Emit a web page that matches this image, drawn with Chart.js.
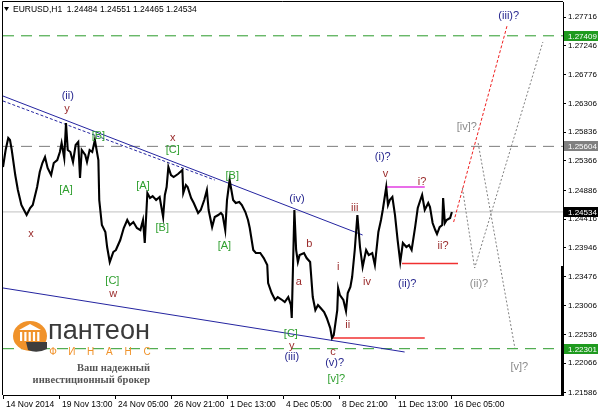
<!DOCTYPE html>
<html>
<head>
<meta charset="utf-8">
<script src="https://cdn.jsdelivr.net/npm/chart.js@4.4.1/dist/chart.umd.min.js"></script>
<style>
  html, body { margin: 0; padding: 0; background: #fff; }
</style>
</head>
<body>
<canvas id="meinChart" width="600" height="411"></canvas>
<script>
// ---- data (EURUSD H1, bars counted from 14 Nov 2014 00:00)
const xTickBars   = [0, 64, 128, 192, 256, 320, 384, 448, 512];
const xTickLabels = ['14 Nov 2014', '19 Nov 13:00', '24 Nov 05:00', '26 Nov 21:00', '1 Dec 13:00',
                     '4 Dec 05:00', '8 Dec 21:00', '11 Dec 13:00', '16 Dec 05:00'];
const yTickVals = [1.27716, 1.27246, 1.26776, 1.26306, 1.25836, 1.25366, 1.24886,
                   1.24416, 1.23946, 1.23476, 1.23006, 1.22536, 1.22066, 1.21586];

const priceBars = [0,3,6,8,10,14,17,21,24,27,31,34,39,42,45,48,51,55,58,62,65,67,70,72,74,77,80,83,86,88,
  90,94,96,99,102,105,109,110,113,117,119,122,126,129,134,138,142,145,149,153,157,160,162,165,168,171,175,179,183,185,
  187,189,192,195,200,205,206,209,211,215,218,223,226,230,233,235,239,242,246,249,251,254,256,259,263,266,270,273,277,280,
  282,286,289,294,298,302,303,307,311,314,319,322,326,329,330,333,335,337,339,344,347,351,354,357,360,363,367,370,374,376,
  378,382,383,385,389,392,394,397,399,402,405,408,411,415,418,422,425,429,432,434,438,440,442,445,448,451,454,457,461,464,
  467,471,474,477,479,482,486,488,491,494,496,499,502,503,505,507,511,513];
const priceVals = [1.25267,1.25545,1.25740,1.25708,1.25545,1.25136,1.24891,1.24647,1.24565,1.24483,1.24598,1.24647,1.24940,1.25185,1.25332,1.25430,1.25251,1.25136,1.25332,1.25381,1.25512,1.25659,1.25414,1.25985,1.25545,1.25512,1.25349,1.25626,1.25675,1.25087,
  1.25545,1.25463,1.25349,1.25545,1.25512,1.25708,1.25381,1.24728,1.24320,1.24206,1.23961,1.23716,1.23879,1.23912,1.24075,1.24271,1.24402,1.24320,1.24369,1.24271,1.24238,1.24402,1.24026,1.24842,1.24761,1.24793,1.24728,1.24777,1.24451,1.24810,
  1.24940,1.25267,1.25136,1.25104,1.25153,1.25218,1.24842,1.24973,1.24940,1.24761,1.24679,1.24516,1.24565,1.24728,1.24891,1.24565,1.24287,1.24451,1.24483,1.24516,1.24483,1.24238,1.24728,1.25055,1.24728,1.24679,1.24696,1.24647,1.24532,1.24402,
  1.24271,1.23912,1.23863,1.23863,1.23781,1.23667,1.23373,1.23210,1.23096,1.23144,1.23096,1.23063,1.23144,1.23014,1.22802,1.24565,1.23912,1.23716,1.23830,1.23863,1.23781,1.23716,1.23144,1.22932,1.23014,1.22965,1.22900,1.22802,1.22638,1.22475,
  1.22524,1.22932,1.23291,1.23177,1.23096,1.22916,1.23210,1.23308,1.23471,1.23912,1.24483,1.23961,1.23634,1.23912,1.23830,1.23863,1.23667,1.24206,1.24402,1.24565,1.24940,1.24647,1.24728,1.24777,1.24483,1.24075,1.23716,1.24026,1.23961,1.23993,
  1.23912,1.24287,1.24598,1.24728,1.24810,1.24565,1.24679,1.24614,1.24353,1.24238,1.24173,1.24287,1.24320,1.24761,1.24353,1.24402,1.24434,1.24534];

const lastBar = [1.24484, 1.24551, 1.24465, 1.24534]; // open high low close
const greenLevels = [1.27409, 1.22301];
const grayLevel = 1.25604;

// trend lines and targets: [bar, price]
const upperLine   = [[0, 1.26426], [411, 1.24157]];
const upperDotted = [[0, 1.26345], [242, 1.25055]];
const lowerLine   = [[0, 1.23292], [459, 1.22247]];
const highMark    = [[437, 1.24940], [482, 1.24940]];
const stopMark1   = [[456, 1.23690], [520, 1.23690]];
const stopMark2   = [[377, 1.22475], [482, 1.22475]];
const mainPath    = [[515, 1.24369], [576, 1.27569]];
const altPathA    = [[525, 1.24924], [539, 1.23618], [617, 1.27308]];
const altPathB    = [[543, 1.25659], [585, 1.22312]];

// wave labels
const waveText  = ['(ii)','y','[B]','x','[C]','[A]','[A]','[B]','x','[B]','[A]','[C]','w','(iv)','b','a','iii','(i)?','v','i?',
                   'i','iv','(ii)?','ii?','ii','[C]','y','(iii)','c','(v)?','[v]?','(iii)?','[iv]?','(ii)?','[v]?'];
const waveBar   = [74,73,109,194,194,72,160,182,32,262,253,125,126,336,350,338,402,434,437,479,
                   383,416,462,503,394,329,330,330,377,379,381,578,530,544,590];
const wavePrice = [1.26426,1.26214,1.25773,1.25740,1.25545,1.24891,1.24957,1.24271,1.24173,1.25120,1.23977,1.23406,1.23194,1.24745,1.24010,1.23390,1.24598,1.25430,1.25153,1.25022,
                   1.23634,1.23390,1.23357,1.23977,1.22687,1.22541,1.22345,1.22165,1.22247,1.22067,1.21806,1.27732,1.25920,1.23357,1.22002];
const waveDegree = ['minor','sub','inter','sub','inter','inter','inter','inter','sub','inter','inter','inter','sub','minor','sub','sub','sub','minor','sub','sub',
                    'sub','sub','minor','sub','sub','inter','sub','minor','sub','minor','inter','minor','alt','alt','alt'];

const degreeColor = { minor: '#26268e', sub: '#9a2b2b', inter: '#2f9f2f', alt: '#8a8a8a' };

function seg(pts, color, width, dash) {
  return {
    data: pts.map(p => ({ x: p[0], y: p[1] })),
    borderColor: color, borderWidth: width, borderDash: dash || [],
    pointRadius: 0, fill: false, tension: 0
  };
}

const datasets = [
  {
    data: priceBars.map((b, i) => ({ x: b, y: priceVals[i] })),
    borderColor: '#000', borderWidth: 2.1, pointRadius: 0, fill: false, tension: 0
  },
  seg(highMark, '#e23ce2', 1.5),
  seg(stopMark1, '#f03030', 1.5),
  seg(stopMark2, '#f03030', 1.5),
  seg(mainPath, '#f02020', 1, [3, 2]),
  seg(altPathA, '#808080', 1, [2, 2]),
  seg(altPathB, '#808080', 1, [2, 2]),
  seg(upperLine, '#2424a0', 1),
  seg(upperDotted, '#2424a0', 1, [3, 2]),
  seg(lowerLine, '#2424a0', 1),
  seg([[0, greenLevels[0]], [640, greenLevels[0]]], '#2a9a2a', 1, [11, 7]),
  seg([[0, greenLevels[1]], [640, greenLevels[1]]], '#2a9a2a', 1, [11, 7]),
  seg([[0, grayLevel], [640, grayLevel]], '#7c7c7c', 1, [11, 7]),
  seg([[0, lastBar[3]], [640, lastBar[3]]], '#c0c0c0', 1)
];

const decor = {
  id: 'decor',
  beforeDraw(chart) {
    const ctx = chart.ctx;
    ctx.save();
    ctx.fillStyle = '#fff';
    ctx.fillRect(0, 0, chart.width, chart.height);
    ctx.restore();
  },
  afterDraw(chart) {
    const ctx = chart.ctx, a = chart.chartArea;
    const xs = chart.scales.x, ys = chart.scales.y;
    ctx.save();

    // frame
    ctx.strokeStyle = '#000';
    ctx.lineWidth = 1;
    ctx.beginPath();
    ctx.moveTo(a.left - 0.5, a.bottom);
    ctx.lineTo(a.left - 0.5, a.top - 0.5);
    ctx.lineTo(a.right, a.top - 0.5);
    ctx.stroke();
    ctx.fillStyle = '#000';
    ctx.fillRect(a.right - 2, 266, 3, a.bottom - 266);

    // header
    ctx.beginPath();
    ctx.moveTo(4, 7); ctx.lineTo(9, 7); ctx.lineTo(6.5, 11); ctx.closePath();
    ctx.fill();
    ctx.font = '8.5px "Liberation Sans", Arial, sans-serif';
    ctx.textBaseline = 'alphabetic';
    ctx.textAlign = 'left';
    ctx.fillText('EURUSD,H1  ' + lastBar.map(v => v.toFixed(5)).join(' '), 13, 12);

    // wave labels
    ctx.font = '11px "Liberation Sans", Arial, sans-serif';
    ctx.textAlign = 'center';
    ctx.textBaseline = 'middle';
    waveText.forEach((t, i) => {
      ctx.fillStyle = degreeColor[waveDegree[i]];
      ctx.fillText(t, xs.getPixelForValue(waveBar[i]), ys.getPixelForValue(wavePrice[i]));
    });

    // price tags on the axis
    const tags = [[greenLevels[0], '#1f9a1f'], [grayLevel, '#808080'], [lastBar[3], '#000'], [greenLevels[1], '#1f9a1f']];
    ctx.font = '8px "Liberation Sans", Arial, sans-serif';
    ctx.textAlign = 'left';
    tags.forEach(([v, c]) => {
      const y = Math.round(ys.getPixelForValue(v));
      ctx.fillStyle = c;
      ctx.fillRect(a.right + 1, y - 5, 34, 10);
      ctx.fillStyle = '#fff';
      ctx.fillText(v.toFixed(5), a.right + 5, y + 0.5);
    });

    drawLogo(ctx);
    ctx.restore();
  }
};

function drawLogo(ctx) {
  const orange = '#f0922a';
  // emblem
  ctx.fillStyle = orange;
  ctx.beginPath();
  ctx.ellipse(30, 336, 17, 15, 0, 0, Math.PI * 2);
  ctx.fill();
  ctx.fillStyle = '#fff';
  ctx.beginPath();
  ctx.moveTo(19, 330); ctx.lineTo(30, 324); ctx.lineTo(41, 330); ctx.closePath();
  ctx.fill();
  for (let i = 0; i < 5; i++) ctx.fillRect(20 + i * 4.3, 332, 2.2, 9);
  ctx.fillStyle = '#3d3d3d';
  ctx.beginPath();
  ctx.moveTo(26, 342); ctx.lineTo(47, 342); ctx.lineTo(47, 349);
  ctx.quadraticCurveTo(37, 354, 28, 350); ctx.closePath();
  ctx.fill();

  // name
  ctx.fillStyle = '#3a3a3a';
  ctx.font = '27px "Liberation Sans", Arial, sans-serif';
  ctx.textAlign = 'left';
  ctx.textBaseline = 'alphabetic';
  const w = ctx.measureText('пантеон').width;
  ctx.save();
  ctx.translate(48, 339);
  ctx.scale(102 / w, 1);
  ctx.fillText('пантеон', 0, 0);
  ctx.restore();

  ctx.fillStyle = orange;
  ctx.font = '10px "Liberation Sans", Arial, sans-serif';
  ctx.textAlign = 'center';
  'ФИНАНС'.split('').forEach((ch, i) => ctx.fillText(ch, 53 + i * 18.8, 355));

  ctx.fillStyle = '#555';
  ctx.font = 'bold 10.5px "Liberation Serif", "Times New Roman", serif';
  ctx.textAlign = 'right';
  ctx.fillText('Ваш надежный', 150, 371);
  ctx.fillText('инвестиционный брокер', 150, 383);
}

new Chart(document.getElementById('meinChart'), {
  type: 'line',
  data: { datasets: datasets },
  options: {
    responsive: false,
    animation: false,
    events: [],
    layout: { padding: { left: 3, top: 2, right: 0, bottom: 0 } },
    plugins: { legend: { display: false }, tooltip: { enabled: false } },
    scales: {
      x: {
        type: 'linear', min: 0, max: 640,
        afterBuildTicks: s => { s.ticks = xTickBars.map(v => ({ value: v })); },
        afterFit: s => { s.height = 16; s.paddingLeft = 0; s.paddingRight = 0; },
        ticks: {
          callback: (v, i) => xTickLabels[i],
          align: 'start', labelOffset: 3, maxRotation: 0, autoSkip: false, padding: 1,
          color: '#000', font: { family: 'Liberation Sans', size: 8.5 }
        },
        grid: { drawOnChartArea: false, color: '#000', tickLength: 4 },
        border: { color: '#000' }
      },
      y: {
        position: 'right', min: 1.21545, max: 1.27961,
        afterBuildTicks: s => { s.ticks = yTickVals.map(v => ({ value: v })); },
        afterFit: s => { s.width = 37; s.paddingTop = 0; s.paddingBottom = 0; },
        ticks: {
          callback: v => v.toFixed(5),
          crossAlign: 'near', padding: 2, autoSkip: false,
          color: '#000', font: { family: 'Liberation Sans', size: 8 }
        },
        grid: { drawOnChartArea: false, color: '#000', tickLength: 3 },
        border: { color: '#000' }
      }
    }
  },
  plugins: [decor]
});
</script>
</body>
</html>
